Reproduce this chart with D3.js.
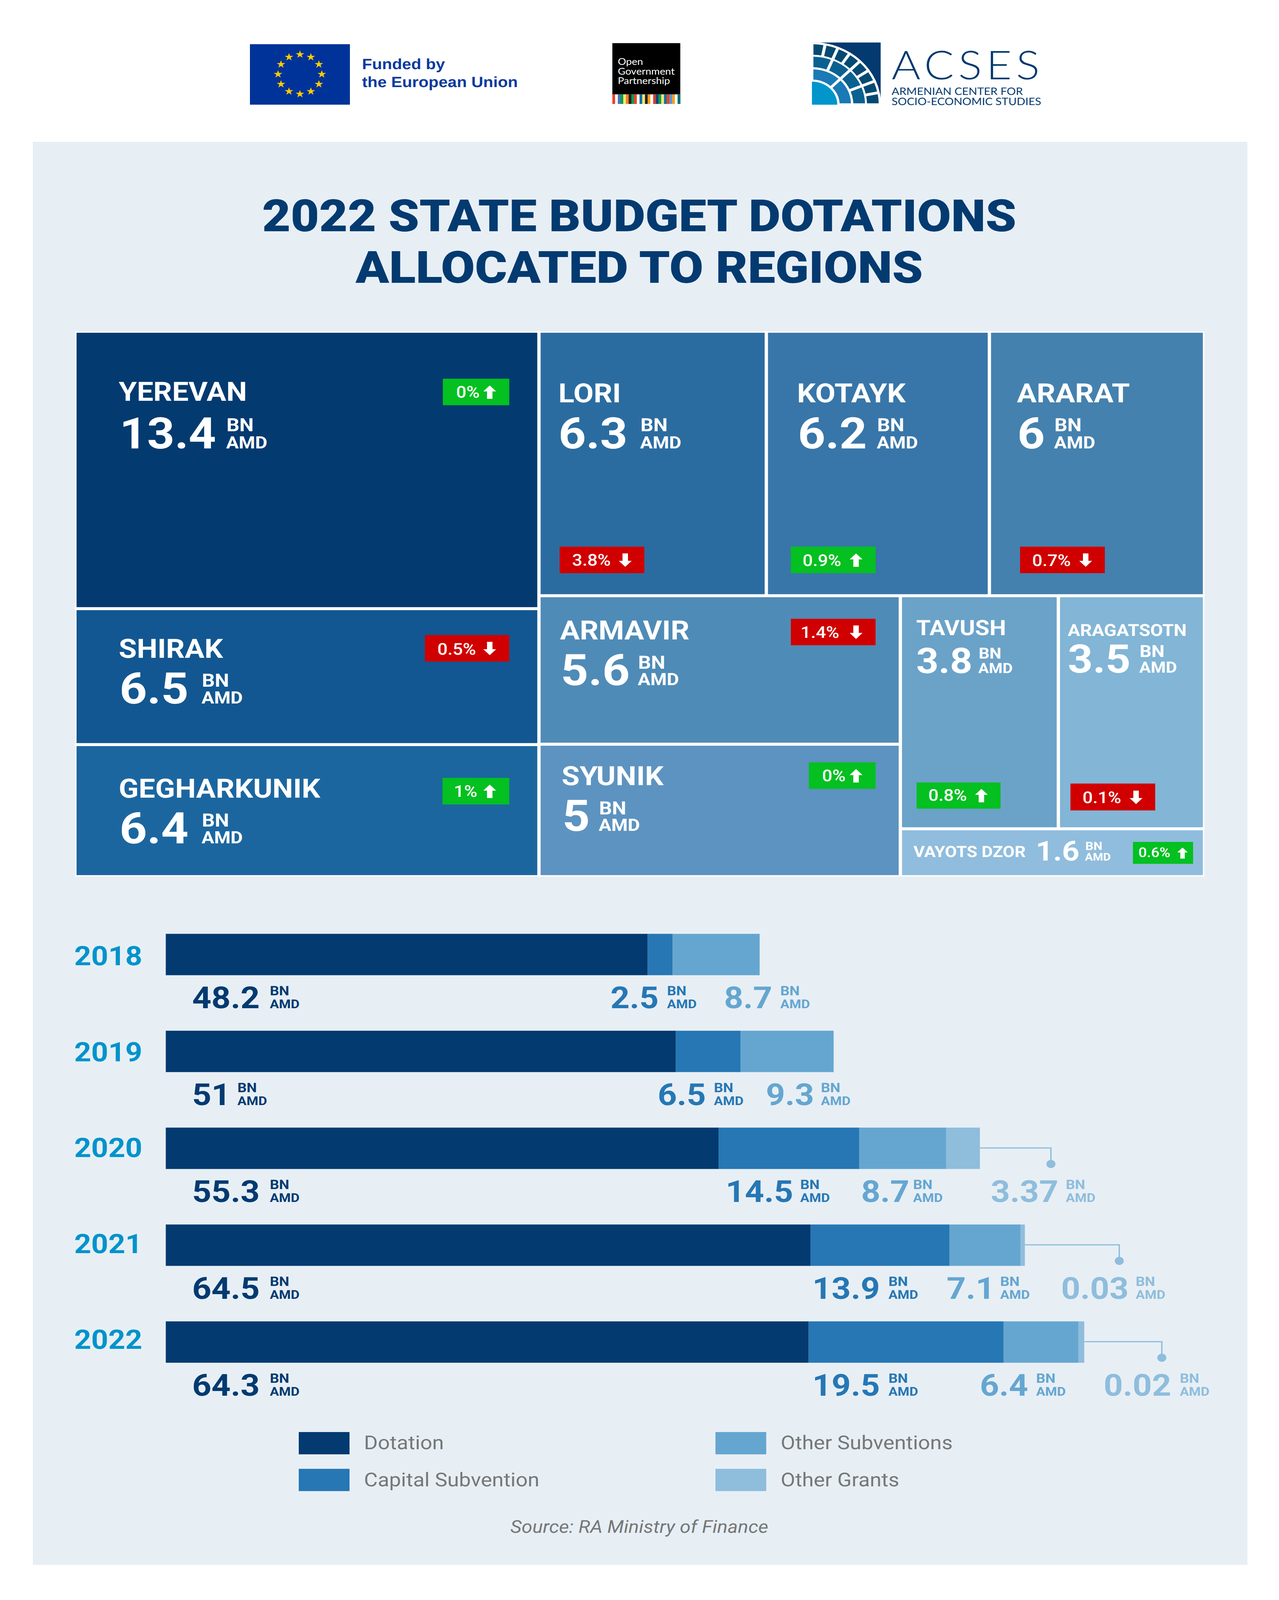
<!DOCTYPE html>
<html>
<head>
<meta charset="utf-8">
<script src="https://cdnjs.cloudflare.com/ajax/libs/d3/7.8.5/d3.min.js"></script>
<style>
html, body { margin: 0; padding: 0; background: #fff; overflow: hidden; }
svg { display: block; }
text { font-family: Roboto, sans-serif; text-rendering: geometricPrecision; }
</style>
</head>
<body>
<svg id="chart" width="3275" viewBox="0 0 3275 4525" preserveAspectRatio="none"></svg>
<script>
var regions = ["YEREVAN", "SHIRAK", "GEGHARKUNIK", "LORI", "KOTAYK", "ARARAT", "ARMAVIR", "SYUNIK", "TAVUSH", "ARAGATSOTN", "VAYOTS DZOR"];
var regionLabels = ["13.4", "6.5", "6.4", "6.3", "6.2", "6", "5.6", "5", "3.8", "3.5", "1.6"];
// cell areas as drawn, the picture sits a little off its own labels
var regionAreas = [13.53, 6.63, 6.44, 6.32, 6.2, 5.98, 5.64, 5.03, 3.87, 3.58, 1.53];
var regionChange = ["0%", "0.5%", "1%", "3.8%", "0.9%", "0.7%", "1.4%", "0%", "0.8%", "0.1%", "0.6%"];
var regionUp = [true, false, true, false, true, false, false, true, true, false, true];
var regionColors = ["#033a70", "#125791", "#1c66a0", "#2b6ca0", "#3876a9", "#4481ae", "#4f8bb7", "#5d93c0", "#6ba2c8", "#82b5d6", "#90bddd"];

var years = ["2018", "2019", "2020", "2021", "2022"];
var seriesNames = ["Dotation", "Capital Subvention", "Other Subventions", "Other Grants"];
// bar lengths as drawn
var dotation = [48.2, 51, 55.3, 64.5, 64.3];
var capital = [2.5, 6.5, 14.06, 13.9, 19.5];
var otherSub = [8.7, 9.3, 8.7, 7.1, 7.47];
var grants = [0, 0, 3.37, 0.43, 0.6];
// printed numbers
var dotationLabels = ["48.2", "51", "55.3", "64.5", "64.3"];
var capitalLabels = ["2.5", "6.5", "14.5", "13.9", "19.5"];
var otherSubLabels = ["8.7", "9.3", "8.7", "7.1", "6.4"];
var grantsLabels = [null, null, "3.37", "0.03", "0.02"];
var seriesColors = ["#033a70", "#2677b4", "#65a6d0", "#8fbddc"];

// where the printed numbers sit, [number x, unit x] per year
var valueX = [
  [[492, 691], [492, 608], [492, 691], [492, 691], [492, 691]],
  [[1563, 1708], [1684, 1828], [1858, 2049], [2080, 2275], [2080, 2275]],
  [[1854, 1998], [1961, 2102], [2205, 2338], [2424, 2561], [2509, 2653]],
  [null, null, [2537, 2729], [2717, 2908], [2826, 3021]]
];
var leaderX = [null, null, 2691, 2866, 2975];

// text and tag placement in each treemap cell
var cellLayout = {
  "YEREVAN": {nx: 304, nb: 1134, vx: 306, vb: 1268, ux: 580, ub: 1220, sizes: [75, 123, 48], tag: [1134, 1071, 170, 75], tx: 1168, tb: 1125, ax: 1254, ay: 1090},
  "SHIRAK": {nx: 304, nb: 1860, vx: 306, vb: 1990, ux: 517, ub: 1942, sizes: [75, 123, 48], tag: [1088, 1796, 216, 75], tx: 1120, tb: 1851, ax: 1254, ay: 1815},
  "GEGHARKUNIK": {nx: 304, nb: 2256, vx: 306, vb: 2385, ux: 517, ub: 2338, sizes: [75, 123, 48], tag: [1133, 2200, 171, 75], tx: 1162, tb: 2254, ax: 1254, ay: 2219},
  "LORI": {nx: 1430, nb: 1138, vx: 1430, vb: 1268, ux: 1640, ub: 1220, sizes: [75, 123, 48], tag: [1433, 1546, 217, 75], tx: 1465, tb: 1600, ax: 1601, ay: 1565},
  "KOTAYK": {nx: 2041, nb: 1138, vx: 2043, vb: 1268, ux: 2246, ub: 1220, sizes: [75, 123, 48], tag: [2025, 1546, 217, 75], tx: 2055, tb: 1601, ax: 2192, ay: 1565},
  "ARARAT": {nx: 2604, nb: 1138, vx: 2605, vb: 1268, ux: 2700, ub: 1220, sizes: [75, 123, 48], tag: [2612, 1546, 217, 75], tx: 2643, tb: 1601, ax: 2780, ay: 1565},
  "ARMAVIR": {nx: 1434, nb: 1809, vx: 1436, vb: 1938, ux: 1634, ub: 1891, sizes: [75, 123, 48], tag: [2025, 1750, 217, 75], tx: 2050, tb: 1804, ax: 2192, ay: 1769},
  "SYUNIK": {nx: 1438, nb: 2220, vx: 1440, vb: 2350, ux: 1534, ub: 2303, sizes: [75, 123, 48], tag: [2071, 2156, 171, 75], tx: 2105, tb: 2210, ax: 2192, ay: 2175},
  "TAVUSH": {nx: 2346, nb: 1796, vx: 2346, vb: 1903, ux: 2506, ub: 1863, sizes: [60, 100, 40], tag: [2347, 2213, 215, 74], tx: 2377, tb: 2265, ax: 2513, ay: 2231},
  "ARAGATSOTN": {nx: 2734, nb: 1798, vx: 2734, vb: 1902, ux: 2918, ub: 1858, sizes: [47, 112, 44], tag: [2741, 2216, 217, 76], tx: 2772, tb: 2271, ax: 2909, ay: 2236},
  "VAYOTS DZOR": {nx: 2339, nb: 2424, vx: 2652, vb: 2434, ux: 2779, ub: 2404, sizes: [44, 78, 30], tag: [2901, 2381, 154, 62], tx: 2915, tb: 2424, ax: 3028, ay: 2397, small: true}
};

var navy = "#033a70";
var grey = "#777777";
// the window can be shorter than the page, squeeze the page into what is there
var svg = d3.select("#chart").attr("height", Math.min(4525, window.innerHeight || 4525));

svg.append("rect").attr("width", 3275).attr("height", 4525).attr("fill", "#fff");
svg.append("rect").attr("x", 84).attr("y", 401).attr("width", 3110).attr("height", 4025).attr("fill", "#e7eff5");

drawLogos();

// title
svg.selectAll(".title").data(["2022 STATE BUDGET DOTATIONS", "ALLOCATED TO REGIONS"]).enter().append("text")
  .attr("class", "title")
  .attr("x", 1637)
  .attr("y", function(d, i){ return i ? 800 : 654; })
  .attr("text-anchor", "middle")
  .attr("font-size", 126)
  .attr("font-weight", 900)
  .attr("fill", navy)
  .text(function(d){ return d; });

// treemap
var leaf = function(i){ return {name: regions[i], idx: i}; };
var tree = {children: [
  {children: [leaf(0), leaf(1), leaf(2)]},
  {children: [
    {children: [leaf(3), leaf(4), leaf(5)]},
    {children: [
      {children: [leaf(6), leaf(7)]},
      {children: [{children: [leaf(8), leaf(9)]}, leaf(10)]}
    ]}
  ]}
]};
var root = d3.hierarchy(tree).sum(function(d){ return d.children ? 0 : regionAreas[d.idx]; });
d3.treemap().size([2884, 1534]).paddingInner(8.5).tile(d3.treemapSliceDice)(root);

var treeG = svg.append("g").attr("transform", "translate(196,941)");
treeG.append("rect").attr("x", -4).attr("y", -4).attr("width", 2892).attr("height", 1542).attr("fill", "#fff");
treeG.selectAll(".cell").data(root.leaves()).enter().append("rect")
  .attr("class", "cell")
  .attr("x", function(d){ return d.x0; })
  .attr("y", function(d){ return d.y0; })
  .attr("width", function(d){ return d.x1 - d.x0; })
  .attr("height", function(d){ return d.y1 - d.y0; })
  .attr("fill", function(d){ return regionColors[d.data.idx]; });

regions.forEach(function(name, i){
  var l = cellLayout[name];
  var g = svg.append("g").attr("fill", "#fff").attr("font-weight", 700);
  g.append("text").attr("x", l.nx).attr("y", l.nb).attr("font-size", l.sizes[0]).text(name);
  g.append("text").attr("x", l.vx).attr("y", l.vb).attr("font-size", l.sizes[1]).text(regionLabels[i]);
  g.append("text").attr("x", l.ux).attr("y", l.ub).attr("font-size", l.sizes[2] * 1.08).text("BN");
  g.append("text").attr("x", l.ux - 1).attr("y", l.vb).attr("font-size", l.sizes[2]).text("AMD");
  g.append("rect")
    .attr("x", l.tag[0]).attr("y", l.tag[1]).attr("width", l.tag[2]).attr("height", l.tag[3])
    .attr("fill", regionUp[i] ? "#04c020" : "#d00000");
  g.append("text").attr("x", l.tx).attr("y", l.tb)
    .attr("font-size", l.small ? 38 : 46).attr("font-weight", 500).text(regionChange[i]);
  g.append("path").attr("d", arrowPath(l.ax, l.ay, l.small ? 0.82 : 1, regionUp[i]));
});

// stacked bars
var rows = years.map(function(y, i){
  return {year: y, Dotation: dotation[i], "Capital Subvention": capital[i], "Other Subventions": otherSub[i], "Other Grants": grants[i]};
});
var stacked = d3.stack().keys(seriesNames)(rows);
var x = d3.scaleLinear().domain([0, 100]).range([424.5, 2984.5]);
var y = d3.scaleBand().domain(years).range([2641, 3854]).paddingInner(0.573);
var yearY = d3.scalePoint().domain(years).range([2730, 3815]);
var valueY = d3.scalePoint().domain(years).range([2851, 3947]);

svg.selectAll(".series").data(stacked).enter().append("g")
  .attr("class", "series")
  .attr("fill", function(d, i){ return seriesColors[i]; })
  .selectAll("rect").data(function(d){ return d; }).enter().append("rect")
  .attr("x", function(d){ return x(d[0]); })
  .attr("y", function(d){ return y(d.data.year); })
  .attr("width", function(d){ return x(d[1]) - x(d[0]); })
  .attr("height", y.bandwidth());

svg.selectAll(".year").data(years).enter().append("text")
  .attr("class", "year")
  .attr("x", 190)
  .attr("y", function(d){ return yearY(d); })
  .attr("font-size", 76)
  .attr("font-weight", 700)
  .attr("fill", "#0093cb")
  .text(function(d){ return d; });

[dotationLabels, capitalLabels, otherSubLabels, grantsLabels].forEach(function(labels, s){
  labels.forEach(function(txt, i){
    if (txt === null) return;
    var g = svg.append("g").attr("fill", seriesColors[s]).attr("font-weight", 700);
    var b = valueY(years[i]);
    g.append("text").attr("x", valueX[s][i][0]).attr("y", b).attr("font-size", 86).text(txt);
    g.append("text").attr("x", valueX[s][i][1]).attr("y", b - 36).attr("font-size", 37).text("BN");
    g.append("text").attr("x", valueX[s][i][1]).attr("y", b).attr("font-size", 34.5).text("AMD");
  });
});

// leader lines for the thin grant segments
var leader = d3.line();
years.forEach(function(yr, i){
  if (leaderX[i] === null) return;
  var end = x(dotation[i] + capital[i] + otherSub[i] + grants[i]);
  var top = y(yr);
  svg.append("path")
    .attr("d", leader([[end, top + y.bandwidth() / 2 - 1], [leaderX[i], top + y.bandwidth() / 2 - 1], [leaderX[i], top + 103]]))
    .attr("fill", "none").attr("stroke", seriesColors[3]).attr("stroke-width", 3.5);
  svg.append("circle").attr("cx", leaderX[i]).attr("cy", top + 103).attr("r", 11.5).attr("fill", seriesColors[3]);
});

// legend
var legendX = d3.scalePoint().domain([0, 1]).range([765, 1832]);
var legendY = d3.scalePoint().domain([0, 1]).range([4050, 4154]);
seriesNames.forEach(function(name, i){
  var cx = legendX(i >> 1), cy = legendY(i % 2);
  svg.append("rect").attr("x", cx).attr("y", cy).attr("width", 130).attr("height", 63).attr("fill", seriesColors[i]);
  svg.append("text").attr("x", cx + 167).attr("y", cy + 49).attr("font-size", 54).attr("fill", grey).text(name);
});

svg.append("text").attr("x", 1637).attr("y", 4335).attr("text-anchor", "middle")
  .attr("font-size", 50).attr("font-style", "italic").attr("fill", grey).text("Source: RA Ministry of Finance");

function arrowPath(cx, top, k, up){
  var w = 16.5 * k, s = 7 * k, h = 38 * k, hd = 17 * k;
  var pts = up
    ? [[cx, top], [cx + w, top + hd], [cx + s, top + hd], [cx + s, top + h], [cx - s, top + h], [cx - s, top + hd], [cx - w, top + hd]]
    : [[cx - s, top], [cx + s, top], [cx + s, top + h - hd], [cx + w, top + h - hd], [cx, top + h], [cx - w, top + h - hd], [cx - s, top + h - hd]];
  return d3.line()(pts) + "Z";
}

function drawLogos(){
  // EU flag
  var eu = svg.append("g");
  eu.append("rect").attr("x", 640).attr("y", 125).attr("width", 256).attr("height", 171).attr("fill", "#003399");
  d3.range(12).forEach(function(i){
    var a = i * Math.PI / 6;
    eu.append("path")
      .attr("d", d3.symbol(d3.symbolStar, 150)())
      .attr("transform", "translate(" + (768 + 56 * Math.sin(a)) + "," + (210 - 56 * Math.cos(a)) + ")")
      .attr("fill", "#ffcc00");
  });
  eu.selectAll(".eutxt").data(["Funded by", "the European Union"]).enter().append("text")
    .attr("x", 927).attr("y", function(d, i){ return i ? 246 : 195; })
    .attr("font-size", 42).attr("font-weight", 700).attr("fill", "#0b3a9e")
    .style("font-family", "'Liberation Sans', sans-serif")
    .text(function(d){ return d; });

  // OGP
  var ogp = svg.append("g");
  ogp.append("rect").attr("x", 1568).attr("y", 122).attr("width", 174).attr("height", 145).attr("fill", "#000");
  var stripes = ["#f04023", "#fff", "#4a75ba", "#0d9b50", "#f5ea6b", "#f47b30", "#231f20", "#0d9b50", "#f04023", "#fff", "#0a6fa8", "#f5ea6b", "#231f20", "#f99d1c", "#fff", "#cf4030", "#1c3d72", "#0d9b50", "#f5ea6b", "#0a6fa8", "#f04023", "#5197d5", "#f99d1c", "#fff", "#00706b"];
  ogp.selectAll(".st").data(stripes).enter().append("rect")
    .attr("x", function(d, i){ return 1568 + i * 174 / 25; }).attr("y", 267)
    .attr("width", 174 / 25 + 0.3).attr("height", 27).attr("fill", function(d){ return d; });
  ogp.selectAll(".ogptxt").data(["Open", "Government", "Partnership"]).enter().append("text")
    .attr("x", 1582).attr("y", function(d, i){ return 183 + i * 27.5; })
    .attr("font-size", 26.5).attr("fill", "#fff")
    .style("font-family", "Lato, sans-serif")
    .text(function(d){ return d; });

  // ACSES mark: quarter rings round the lower left corner
  var defs = svg.append("defs");
  defs.append("clipPath").attr("id", "acsesClip").append("rect")
    .attr("x", 2079).attr("y", 120).attr("width", 176).attr("height", 176);
  var ac = svg.append("g").attr("clip-path", "url(#acsesClip)");
  ac.append("rect").attr("x", 2079).attr("y", 120).attr("width", 176).attr("height", 176).attr("fill", navy);
  var mark = ac.append("g").attr("transform", "translate(2079,296)");
  mark.append("circle").attr("r", 177).attr("fill", "#fff");
  var rings = [[0, 65, 1, "#0096cc"], [71, 100, 2, "#1b79b5"], [106, 136, 4, "#0a6190"], [141, 171, 8, "#034a73"]];
  rings.forEach(function(r){
    d3.range(r[2]).forEach(function(k){
      var step = Math.PI / 2 / r[2];
      mark.append("path")
        .attr("d", d3.arc()({innerRadius: r[0], outerRadius: r[1], startAngle: k * step, endAngle: (k + 1) * step, padAngle: r[2] > 1 ? 6 / r[1] : 0, padRadius: r[1]}))
        .attr("fill", r[3]);
    });
  });
  svg.append("text").attr("x", 2283).attr("y", 224).attr("font-size", 113).attr("font-weight", 300)
    .attr("fill", navy).style("font-family", "Lato, sans-serif").attr("letter-spacing", 11).text("ACSES");
  svg.selectAll(".acstxt").data(["ARMENIAN CENTER FOR", "SOCIO-ECONOMIC STUDIES"]).enter().append("text")
    .attr("x", 2283).attr("y", function(d, i){ return i ? 297 : 268; })
    .attr("font-size", 29).attr("fill", navy)
    .style("font-family", "Lato, sans-serif")
    .text(function(d){ return d; });
}
</script>
</body>
</html>
